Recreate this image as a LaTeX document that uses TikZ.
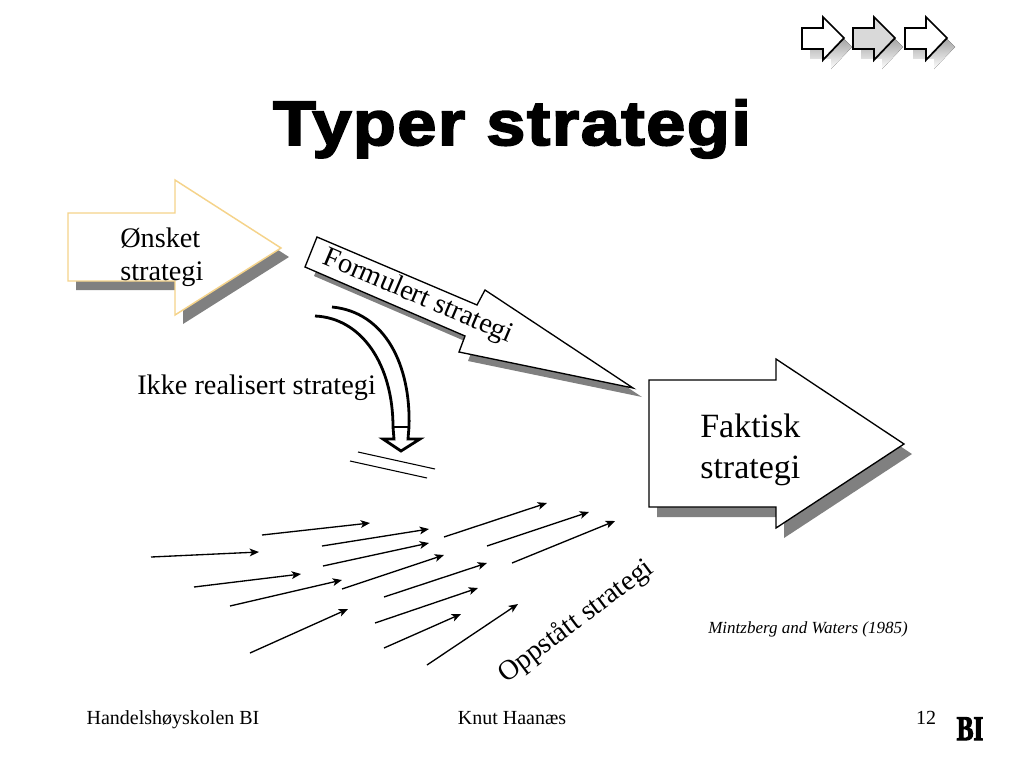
\documentclass[tikz,border=0pt]{standalone}
\usepackage{fontspec}
\setmainfont{Liberation Serif}
\newfontfamily\titlefont[LetterSpace=2.5,FakeBold=3,FakeStretch=1.12]{Liberation Sans Bold}
\newfontfamily\bifont[FakeBold=3,FakeStretch=0.72]{Liberation Serif Bold}
\usetikzlibrary{arrows.meta}
\definecolor{shade}{gray}{0.5}
\definecolor{sand}{HTML}{F5D38A}
\definecolor{pale}{gray}{0.85}
\tikzset{
  x=0.75pt,y=-0.75pt,
  shadowshape/.style={fill=shade,draw=none},
  blockshape/.style={fill=white,draw=black,line width=1pt,line join=miter},
  miniarrow/.style={fill=white,draw=black,line width=1.3pt,line join=miter},
  sandshape/.style={fill=white,draw=sand,line width=1.1pt,line join=miter},
  streak/.style={draw=black,line width=1pt,-{Stealth[length=7pt,width=5.8pt,inset=1.8pt]}},
  curveline/.style={draw=black,line width=2.1pt},
  label/.style={inner sep=0pt,font=\fontsize{21.2}{24}\selectfont},
  footer/.style={inner sep=0pt,anchor=base,font=\fontsize{15}{17}\selectfont},
}
\begin{document}
\begin{tikzpicture}
\useasboundingbox (0,0) rectangle (1024,768);
% top mini arrows
\foreach \dx/\col in {0/white,51/pale,103/white}{
  \fill[shade,shift={(\dx+8,9)}] (802,28)--(823,28)--(823,17)--(844,38)--(823,60)--(823,49)--(802,49)--cycle;
}
\foreach \dx/\col in {0/white,51/pale,103/white}{
  \draw[miniarrow,fill=\col,shift={(\dx,0)}] (802,28)--(823,28)--(823,17)--(844,38)--(823,60)--(823,49)--(802,49)--cycle;
}
% title
\node[inner sep=0pt,anchor=base,font=\titlefont\fontsize{47}{54}\selectfont] (title) at (512,145) {Typer strategi};
% Onsket
\fill[shadowshape,shift={(8,9)}] (68,213)--(175,213)--(175,180)--(281,248)--(175,315)--(175,281)--(68,281)--cycle;
\draw[sandshape] (68,213)--(175,213)--(175,180)--(281,248)--(175,315)--(175,281)--(68,281)--cycle;
\node[label,anchor=base west] (onsket1) at (120,247) {Ønsket};
\node[label,anchor=base west] (onsket2) at (120,280) {strategi};
% Formulert
\fill[shadowshape,shift={(9,9)}] (317,237)--(477,305)--(485,290)--(633,388)--(459,352)--(465,336)--(305,267)--cycle;
\draw[blockshape] (317,237)--(477,305)--(485,290)--(633,388)--(459,352)--(465,336)--(305,267)--cycle;
\node[label,rotate=-23] (formulert) at (418,297) {Formulert strategi};
% Faktisk
\fill[shadowshape,shift={(8,10)}] (649,380)--(776,380)--(776,359)--(904,444)--(776,528)--(776,507)--(649,507)--cycle;
\draw[blockshape] (649,380)--(776,380)--(776,359)--(904,444)--(776,528)--(776,507)--(649,507)--cycle;
\node[label,anchor=base west,font=\fontsize{25.5}{30}\selectfont] (faktisk1) at (700,437) {Faktisk};
\node[label,anchor=base west,font=\fontsize{25.5}{30}\selectfont] (faktisk2) at (700,478) {strategi};
% curved arrow
\draw[curveline,line join=miter] (315,316) .. controls (362,318) and (393,365) .. (393,427)
   -- (394,439) -- (383,439) -- (401,451) -- (420,439) -- (408,439) -- (409,427)
   .. controls (411,365) and (385,312) .. (332,307);
\draw[curveline] (393,427) -- (409,427);
\node[label,anchor=base west] (ikke) at (137,394) {Ikke realisert strategi};
% double bar
\coordinate (ba) at (358,452); \coordinate (bb) at (435,469);
\coordinate (bc) at (350,461); \coordinate (bd) at (427,478);
\draw[black,line width=0.8pt] (ba)--(bb);
\draw[black,line width=0.8pt] (bc)--(bd);
% streak arrows
\foreach \i/\xa/\ya/\xb/\yb in {
 1/151/557/259/552, 2/262/535/370/523, 3/322/546/429/529, 4/323/566/429/543,
 5/194/587/301/574, 6/230/606/342/580, 7/342/589/444/555, 8/250/653/348/609,
 9/444/537/547/503, 10/487/546/589/512, 11/512/563/615/521, 12/384/597/487/563,
 13/375/623/478/588, 14/384/648/461/614, 15/427/665/518/604}{
  \coordinate (s\i) at (\xa,\ya);
  \coordinate (e\i) at (\xb,\yb);
  \draw[streak] (s\i)--(e\i);
}
\node[label,rotate=37] (oppstatt) at (576,622) {Oppstått strategi};
\node[inner sep=0pt,anchor=base west,font=\itshape\fontsize{12.75}{15}\selectfont] (mintz) at (708,633) {Mintzberg and Waters (1985)};
% footer
\node[footer] (foot1) at (173,724) {Handelshøyskolen BI};
\node[footer] (foot2) at (512,724) {Knut Haanæs};
\node[footer] (foot3) at (926,724) {12};
\node[inner sep=0pt,anchor=base,font=\bifont\fontsize{26}{28}\selectfont] (bi) at (970,740) {BI};
\end{tikzpicture}
\end{document}
